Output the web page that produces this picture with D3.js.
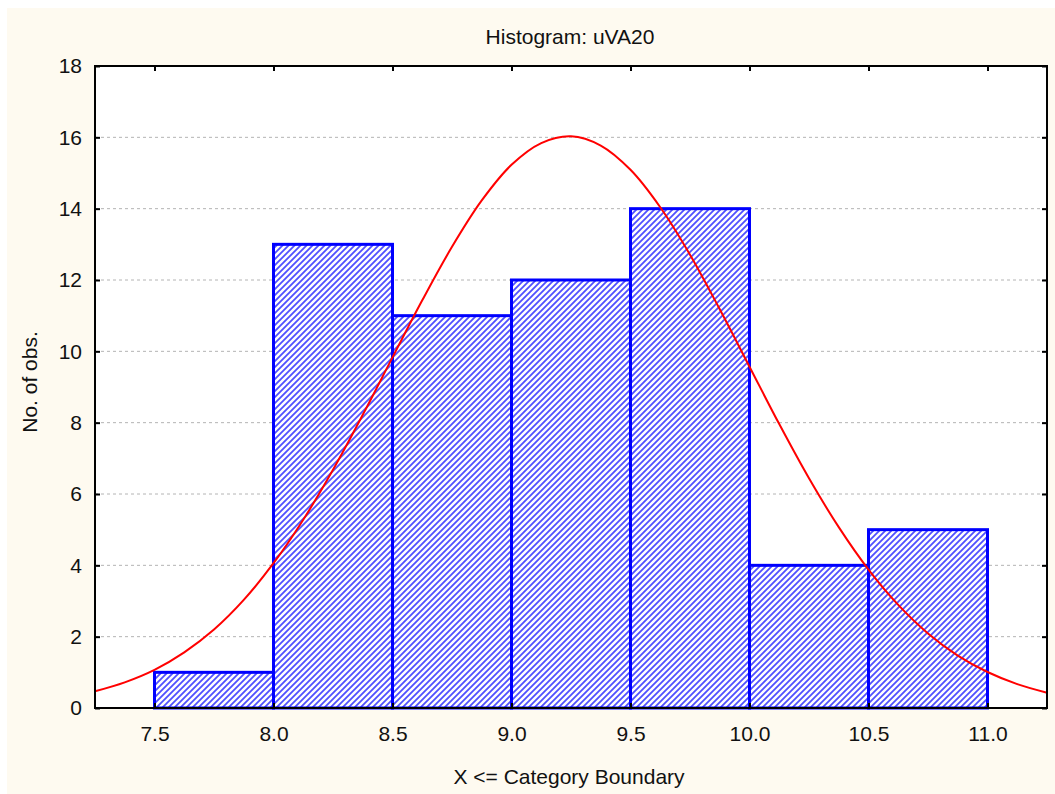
<!DOCTYPE html>
<html>
<head>
<meta charset="utf-8">
<script src="https://cdn.jsdelivr.net/npm/d3@7"></script>
<style>
body { margin: 0; background: #fff; }
text { font-family: "Liberation Sans", Arial, sans-serif; fill: #111; }
</style>
</head>
<body>
<svg width="1055" height="794"></svg>
<script>
// bin edges and counts of the histogram
const binStart = [7.5, 8.0, 8.5, 9.0, 9.5, 10.0, 10.5]
const binEnd   = [8.0, 8.5, 9.0, 9.5, 10.0, 10.5, 11.0]
const counts   = [1, 13, 11, 12, 14, 4, 5]

// fitted normal curve
const curveX = [7.25, 7.375, 7.5, 7.625, 7.75, 7.875, 8.0, 8.125, 8.25, 8.375, 8.5, 8.625,
    8.75, 8.875, 9.0, 9.125, 9.25, 9.375, 9.5, 9.625, 9.75, 9.875, 10.0, 10.125, 10.25,
    10.375, 10.5, 10.625, 10.75, 10.875, 11.0, 11.125, 11.25]
const curveY = [0.47, 0.72, 1.07, 1.56, 2.20, 3.03, 4.06, 5.28, 6.68, 8.22, 9.83, 11.43,
    12.93, 14.23, 15.23, 15.84, 16.03, 15.77, 15.09, 14.04, 12.71, 11.18, 9.57, 7.96, 6.44,
    5.07, 3.88, 2.89, 2.09, 1.47, 1.01, 0.67, 0.43]

const xTicks = [7.5, 8.0, 8.5, 9.0, 9.5, 10.0, 10.5, 11.0]
const yTicks = [0, 2, 4, 6, 8, 10, 12, 14, 16, 18]

const svg = d3.select("svg")
const WIDTH = 1055, HEIGHT = 794
const plotL = 95, plotT = 66, plotR = 1047, plotB = 708
const FONT = 21

// cream page background
svg.append("rect")
    .attr("x", 7).attr("y", 8)
    .attr("width", WIDTH - 7).attr("height", HEIGHT - 8)
    .attr("fill", "#fefaf0")

// hatch pattern for the bars
const pat = svg.append("defs").append("pattern")
    .attr("id", "hatch")
    .attr("patternUnits", "userSpaceOnUse")
    .attr("width", 6).attr("height", 6)
pat.append("rect").attr("width", 6).attr("height", 6).attr("fill", "#fff")
pat.append("path")
    .attr("d", "M-1,1 L1,-1 M0,6 L6,0 M5,7 L7,5")
    .attr("stroke", "#5050ff")
    .attr("stroke-width", 1.8)

const x = d3.scaleLinear().domain([7.25, 11.25]).range([plotL, plotR])
const y = d3.scaleLinear().domain([0, 18]).range([plotB, plotT])

// plot area
svg.append("rect")
    .attr("x", plotL).attr("y", plotT)
    .attr("width", plotR - plotL).attr("height", plotB - plotT)
    .attr("fill", "#fff")

// dashed grid
svg.append("g")
    .selectAll("line")
    .data(yTicks.filter(d => d > 0 && d < 18))
    .enter().append("line")
    .attr("x1", plotL).attr("x2", plotR)
    .attr("y1", d => y(d)).attr("y2", d => y(d))
    .attr("stroke", "#b4b4b4")
    .attr("stroke-width", 1)
    .attr("stroke-dasharray", "3,3")

// bars
svg.append("g")
    .selectAll("rect")
    .data(counts)
    .enter().append("rect")
    .attr("x", (d, i) => x(binStart[i]))
    .attr("width", (d, i) => x(binEnd[i]) - x(binStart[i]))
    .attr("y", d => y(d))
    .attr("height", d => y(0) - y(d))
    .attr("fill", "url(#hatch)")
    .attr("stroke", "#0000ff")
    .attr("stroke-width", 3)

// normal curve
const pts = curveX.map((v, i) => [v, curveY[i]])
svg.append("path")
    .datum(pts)
    .attr("fill", "none")
    .attr("stroke", "#ff0000")
    .attr("stroke-width", 2)
    .attr("d", d3.line().x(d => x(d[0])).y(d => y(d[1])).curve(d3.curveCatmullRom))

// axes, ticks pointing inward
const axisB = svg.append("g").attr("transform", `translate(0,${plotB})`)
    .call(d3.axisBottom(x).tickValues(xTicks).tickSize(-5).tickFormat(d3.format(".1f")))
const axisT = svg.append("g").attr("transform", `translate(0,${plotT})`)
    .call(d3.axisTop(x).tickValues(xTicks).tickSize(-5).tickFormat(""))
const axisL = svg.append("g").attr("transform", `translate(${plotL},0)`)
    .call(d3.axisLeft(y).tickValues(yTicks).tickSize(-5))
const axisR = svg.append("g").attr("transform", `translate(${plotR},0)`)
    .call(d3.axisRight(y).tickValues(yTicks).tickSize(-5).tickFormat(""))

for (const a of [axisB, axisT, axisL, axisR]) {
    a.select(".domain").remove()
    a.selectAll(".tick line").attr("stroke", "#000").attr("stroke-width", 2)
}
axisB.selectAll(".tick text")
    .attr("font-size", FONT).attr("font-family", "Liberation Sans, Arial, sans-serif")
    .attr("fill", "#111").attr("dy", null).attr("y", 33)
axisL.selectAll(".tick text")
    .attr("font-size", FONT).attr("font-family", "Liberation Sans, Arial, sans-serif")
    .attr("fill", "#111").attr("x", -13)

// border
svg.append("rect")
    .attr("x", plotL).attr("y", plotT)
    .attr("width", plotR - plotL).attr("height", plotB - plotT)
    .attr("fill", "none")
    .attr("stroke", "#000")
    .attr("stroke-width", 2)

// titles
svg.append("text")
    .attr("x", (plotL + plotR) / 2 - 1).attr("y", 44)
    .attr("text-anchor", "middle").attr("font-size", FONT)
    .text("Histogram: uVA20")
svg.append("text")
    .attr("x", (plotL + plotR) / 2 - 2).attr("y", 784)
    .attr("text-anchor", "middle").attr("font-size", FONT)
    .text("X <= Category Boundary")
svg.append("text")
    .attr("transform", `translate(37,382) rotate(-90)`)
    .attr("text-anchor", "middle").attr("font-size", FONT)
    .text("No. of obs.")
</script>
</body>
</html>
